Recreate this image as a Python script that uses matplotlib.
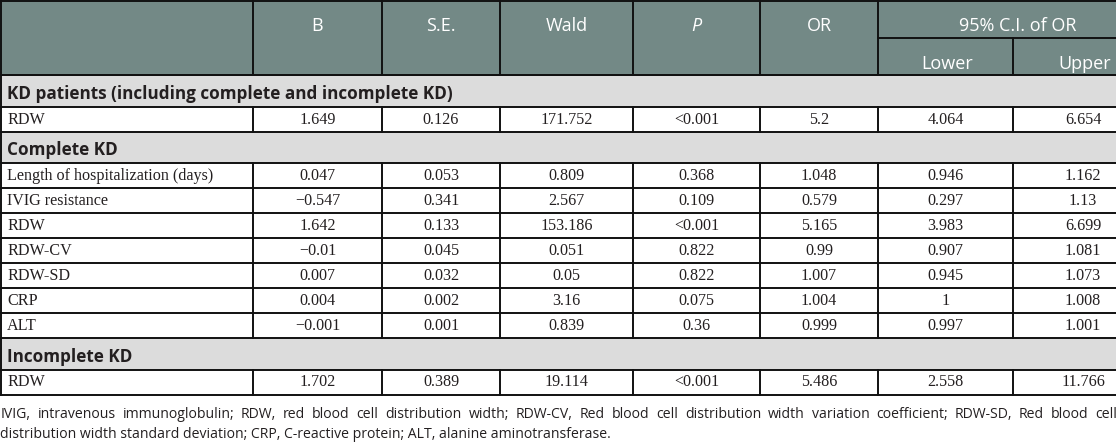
import matplotlib
matplotlib.use("Agg")
import matplotlib.pyplot as plt
from matplotlib.patches import Rectangle

# ---------------- data ----------------
columns = ["B", "S.E.", "Wald", "P", "OR"]
ci_title = "95% C.I. of OR"
ci_columns = ["Lower", "Upper"]

sections = ["KD patients (including complete and incomplete KD)", "Complete KD", "Incomplete KD"]
section_counts = [1, 7, 1]

row_labels = ["RDW",
              "Length of hospitalization (days)", "IVIG resistance", "RDW", "RDW-CV",
              "RDW-SD", "CRP", "ALT",
              "RDW"]
B = [1.649, 0.047, -0.547, 1.642, -0.01, 0.007, 0.004, -0.001, 1.702]
SE = [0.126, 0.053, 0.341, 0.133, 0.045, 0.032, 0.002, 0.001, 0.389]
Wald = [171.752, 0.809, 2.567, 153.186, 0.051, 0.05, 3.16, 0.839, 19.114]
P = ["<0.001", "0.368", "0.109", "<0.001", "0.822", "0.822", "0.075", "0.36", "<0.001"]
OR = [5.2, 1.048, 0.579, 5.165, 0.99, 1.007, 1.004, 0.999, 5.486]
Lower = [4.064, 0.946, 0.297, 3.983, 0.907, 0.945, 1, 0.997, 2.558]
Upper = [6.654, 1.162, 1.13, 6.699, 1.081, 1.073, 1.008, 1.001, 11.766]

footnote_1 = ("IVIG, intravenous immunoglobulin; RDW, red blood cell distribution width; RDW-CV, "
              "Red blood cell distribution width variation coefficient; RDW-SD, Red blood cell")
footnote_2 = ("distribution width standard deviation; CRP, C-reactive protein; ALT, alanine "
              "aminotransferase.")

# ---------------- style / layout ----------------
W, H = 1116, 442
col_edges = [0, 253, 382, 500, 633, 760, 878, 1013, 1153]
header_h = 75
ci_split = 38
section_h = 31.5
row_h = 25

HEAD_BG = "#738986"
SECT_BG = "#dcdcdc"
LINE = "#111111"
TXT = "#231f20"
LW = 1.4
SANS = "Open Sans"
SERIF = "Liberation Serif"
HEAD_FS = 13
SECT_FS = 12.3
BODY_FS = 11.6
NOTE_FS = 10.1


def fmt(v):
    if isinstance(v, str):
        return v
    s = f"{v:g}"
    return s.replace("-", "\u2212")


fig = plt.figure(figsize=(W / 100, H / 100), dpi=100)
ax = fig.add_axes([0, 0, 1, 1])
ax.set_xlim(0, W)
ax.set_ylim(H, 0)
ax.axis("off")

x0, x1 = col_edges[0], col_edges[-1]

# header background
ax.add_patch(Rectangle((x0, 0), x1 - x0, header_h, facecolor=HEAD_BG, edgecolor="none"))
for i, name in enumerate(columns):
    cx = (col_edges[i + 1] + col_edges[i + 2]) / 2
    style = "italic" if name == "P" else "normal"
    ax.text(cx, 26, name, ha="center", va="center", color="white",
            fontsize=HEAD_FS, family=SANS, style=style)
ci_l, ci_r = col_edges[6], col_edges[8]
ax.text((ci_l + ci_r) / 2 + 2, 26, ci_title, ha="center", va="center",
        color="white", fontsize=HEAD_FS, family=SANS)
for j, name in enumerate(ci_columns):
    cx = (col_edges[6 + j] + col_edges[7 + j]) / 2 + 2
    ax.text(cx, 64, name, ha="center", va="center", color="white",
            fontsize=HEAD_FS, family=SANS)

# header lines
ax.plot([x0, x1], [1, 1], color=LINE, lw=LW)
for e in col_edges[1:7]:
    ax.plot([e, e], [0, header_h], color=LINE, lw=LW)
ax.plot([col_edges[7]] * 2, [ci_split, header_h], color=LINE, lw=LW)
ax.plot([ci_l, ci_r], [ci_split, ci_split], color=LINE, lw=LW)
ax.plot([x0, x1], [header_h, header_h], color=LINE, lw=LW)

# body
y = header_h
k = 0
values = [B, SE, Wald, P, OR, Lower, Upper]
for sec, n in zip(sections, section_counts):
    ax.add_patch(Rectangle((x0, y), x1 - x0, section_h, facecolor=SECT_BG, edgecolor="none"))
    ax.text(7, y + section_h / 2 + 3, sec, ha="left", va="center", color=TXT,
            fontsize=SECT_FS, family=SANS, weight="bold")
    ax.plot([x0, x1], [y, y], color=LINE, lw=LW)
    y += section_h
    for r in range(n):
        ax.plot([x0, x1], [y, y], color=LINE, lw=LW)
        for e in col_edges[1:-1]:
            ax.plot([e, e], [y, y + row_h], color=LINE, lw=LW)
        ax.text(7, y + row_h / 2 + 0.5, row_labels[k], ha="left", va="center",
                color=TXT, fontsize=BODY_FS, family=SERIF)
        for c, vals in enumerate(values):
            cx = (col_edges[c + 1] + col_edges[c + 2]) / 2
            ax.text(cx, y + row_h / 2 + 0.5, fmt(vals[k]), ha="center", va="center",
                    color=TXT, fontsize=BODY_FS, family=SERIF)
        y += row_h
        k += 1
ax.plot([x0, x1], [y, y], color=LINE, lw=LW)
# outer left border
ax.plot([1, 1], [0, y], color=LINE, lw=LW)

# footnote (line 1 justified)
fig.canvas.draw()
renderer = fig.canvas.get_renderer()
words = footnote_1.split(" ")
arts = [ax.text(0, 414, w, ha="left", va="center", color=TXT, fontsize=NOTE_FS, family=SANS)
        for w in words]
widths = [a.get_window_extent(renderer).width for a in arts]
gap = (W + 1 - sum(widths)) / (len(words) - 1)
xpos = 0.5
for a, wd in zip(arts, widths):
    a.set_x(xpos)
    xpos += wd + gap
ax.text(0.5, 434, footnote_2, ha="left", va="center", color=TXT, fontsize=NOTE_FS, family=SANS)

fig.savefig("out.png", dpi=100)
